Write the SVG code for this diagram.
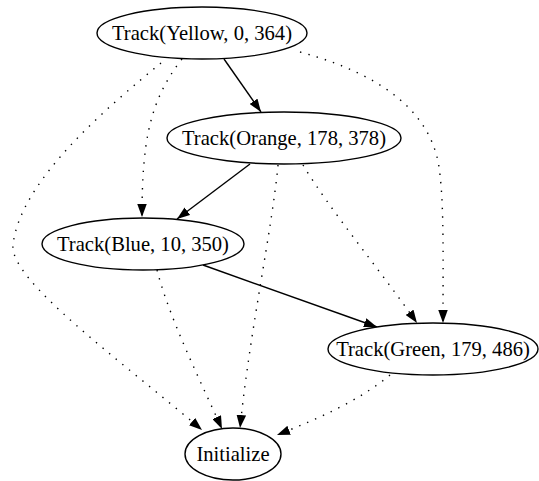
<svg xmlns="http://www.w3.org/2000/svg" width="539" height="481" viewBox="0 0 539 481">
<style>
.node ellipse{fill:#fff;stroke:#000;stroke-width:1.4}
.node text{font-family:"Liberation Serif","Times New Roman",serif;font-size:20.6px;text-anchor:middle;fill:#000}
.edge{fill:none;stroke:#000;stroke-width:1.4}
.dot{stroke-dasharray:1.4,7.2}
</style>
<defs>
<marker id="arr" viewBox="0 0 13 9.5" refX="13" refY="4.75" markerWidth="13" markerHeight="9.5" markerUnits="userSpaceOnUse" orient="auto">
<path d="M0,0 L13,4.75 L0,9.5 z" fill="#000"/>
</marker>
</defs>
<rect width="539" height="481" fill="#fff"/>
<g id="edges">
<path class="edge" d="M224,59 L261,112" marker-end="url(#arr)"/>
<path class="edge" d="M250,164 L177,219" marker-end="url(#arr)"/>
<path class="edge" d="M203,265 L377,327" marker-end="url(#arr)"/>
<path class="edge dot" d="M182,59 C150,100 142,140 142,217" marker-end="url(#arr)"/>
<path class="edge dot" d="M161,63 C110,105 20,180 13,245 C9,280 120,360 202,430" marker-end="url(#arr)"/>
<path class="edge dot" d="M300,52 C385,75 435,115 440,175 C444,210 443,260 443,323" marker-end="url(#arr)"/>
<path class="edge dot" d="M278,165 C272,230 250,330 240,428" marker-end="url(#arr)"/>
<path class="edge dot" d="M303,165 C330,210 380,270 417,323" marker-end="url(#arr)"/>
<path class="edge dot" d="M157,270 C170,320 200,380 222,429" marker-end="url(#arr)"/>
<path class="edge dot" d="M390,375 C360,400 320,418 277,435" marker-end="url(#arr)"/>
</g>
<g id="yellow" class="node"><ellipse cx="202" cy="33" rx="105" ry="26"/><text x="202" y="40">Track(Yellow, 0, 364)</text></g>
<g id="orange" class="node"><ellipse cx="284" cy="138" rx="117" ry="26"/><text x="284" y="145">Track(Orange, 178, 378)</text></g>
<g id="blue" class="node"><ellipse cx="143" cy="244" rx="101" ry="26"/><text x="143" y="251">Track(Blue, 10, 350)</text></g>
<g id="green" class="node"><ellipse cx="433" cy="349" rx="105" ry="26"/><text x="433" y="356">Track(Green, 179, 486)</text></g>
<g id="initialize" class="node"><ellipse cx="233" cy="454" rx="48" ry="26"/><text x="233" y="461">Initialize</text></g>
</svg>
